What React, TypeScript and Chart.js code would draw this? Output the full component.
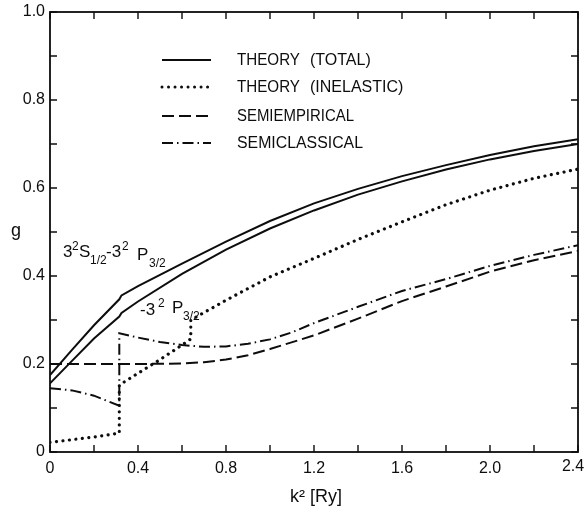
import React, { useEffect, useRef } from 'react';
import { Chart, registerables } from 'chart.js';

Chart.register(...registerables);

const INK = '#0d0d0d';
const FONT = '"Liberation Sans", Arial, sans-serif';

// Tick labels
const xTickLabels = ['0', '0.4', '0.8', '1.2', '1.6', '2.0', '2.4'];
const yTickLabels = ['0', '0.2', '0.4', '0.6', '0.8', '1.0'];

// Theory (total), upper curve
const upperK = [0, 0.1, 0.2, 0.315, 0.325, 0.4, 0.6, 0.8, 1.0, 1.2, 1.4, 1.6, 1.8, 2.0, 2.2, 2.4];
const upperG = [0.175, 0.232, 0.288, 0.347, 0.356, 0.377, 0.428, 0.478, 0.525, 0.565, 0.598, 0.627, 0.652, 0.675, 0.695, 0.711];

// Theory (total), lower curve
const lowerK = [0, 0.1, 0.2, 0.315, 0.325, 0.4, 0.6, 0.8, 1.0, 1.2, 1.4, 1.6, 1.8, 2.0, 2.2, 2.4];
const lowerG = [0.156, 0.207, 0.258, 0.308, 0.316, 0.342, 0.405, 0.46, 0.508, 0.549, 0.585, 0.615, 0.642, 0.665, 0.684, 0.7];

// Theory (inelastic)
const inelK = [0, 0.1, 0.2, 0.315, 0.315, 0.4, 0.5, 0.6, 0.64, 0.64, 0.8, 1.0, 1.2, 1.4, 1.6, 1.8, 2.0, 2.2, 2.4];
const inelG = [0.022, 0.028, 0.034, 0.043, 0.152, 0.179, 0.21, 0.243, 0.257, 0.3, 0.345, 0.398, 0.44, 0.483, 0.523, 0.562, 0.595, 0.622, 0.643];

// Semiempirical
const semiEmpK = [0, 0.2, 0.4, 0.6, 0.7, 0.8, 0.9, 1.0, 1.2, 1.4, 1.6, 1.8, 2.0, 2.2, 2.4];
const semiEmpG = [0.2, 0.2, 0.2, 0.201, 0.204, 0.21, 0.22, 0.234, 0.265, 0.303, 0.343, 0.376, 0.41, 0.436, 0.457];

// Semiclassical
const semiClK = [0, 0.1, 0.2, 0.315, 0.315, 0.4, 0.5, 0.6, 0.7, 0.8, 0.9, 1.0, 1.1, 1.2, 1.4, 1.6, 1.8, 2.0, 2.2, 2.4];
const semiClG = [0.145, 0.14, 0.128, 0.105, 0.27, 0.26, 0.25, 0.243, 0.239, 0.24, 0.246, 0.256, 0.272, 0.293, 0.33, 0.366, 0.393, 0.423, 0.448, 0.47];

const legendLabels = [
  ['THEORY', '(TOTAL)'],
  ['THEORY', '(INELASTIC)'],
  ['SEMIEMPIRICAL', ''],
  ['SEMICLASSICAL', ''],
];

const zip = (k: number[], g: number[]) => k.map((x, i) => ({ x, y: g[i] }));

const DOT = [0.01, 6.5];
const DASH = [12, 5];
const DASHDOT = [11, 4, 1.5, 4];

const legendStyles = [
  { dash: [] as number[], width: 2, cap: 'butt' },
  { dash: DOT, width: 3, cap: 'round' },
  { dash: DASH, width: 2, cap: 'butt' },
  { dash: DASHDOT, width: 2, cap: 'butt' },
];

type Seg = [string, number, number, number]; // text, x, baseline y, size

function drawSegs(ctx: CanvasRenderingContext2D, segs: Seg[]) {
  ctx.textAlign = 'left';
  ctx.textBaseline = 'alphabetic';
  for (const [t, x, y, s] of segs) {
    ctx.font = `${s}px ${FONT}`;
    ctx.fillText(t, x, y);
  }
}

const decorPlugin = {
  id: 'decor',
  afterDraw(chart: any) {
    const { ctx, chartArea: a, scales } = chart;
    const xs = scales.x;
    const ys = scales.y;
    ctx.save();
    ctx.strokeStyle = INK;
    ctx.fillStyle = INK;
    ctx.lineWidth = 1.8;
    ctx.setLineDash([]);
    ctx.strokeRect(a.left, a.top, a.right - a.left, a.bottom - a.top);
    ctx.lineWidth = 1.4;
    const tl = 7;
    ctx.beginPath();
    xs.ticks.forEach((t: any) => {
      const px = xs.getPixelForValue(t.value);
      ctx.moveTo(px, a.bottom);
      ctx.lineTo(px, a.bottom - tl);
      ctx.moveTo(px, a.top);
      ctx.lineTo(px, a.top + tl);
    });
    ys.ticks.forEach((t: any) => {
      const py = ys.getPixelForValue(t.value);
      ctx.moveTo(a.left, py);
      ctx.lineTo(a.left + tl, py);
      ctx.moveTo(a.right, py);
      ctx.lineTo(a.right - tl, py);
    });
    ctx.stroke();

    // last x tick label, pulled inside the canvas
    ctx.font = `16px ${FONT}`;
    ctx.textAlign = 'center';
    ctx.textBaseline = 'top';
    const lastVal = xs.ticks[xs.ticks.length - 1].value;
    ctx.fillText(xTickLabels[xTickLabels.length - 1], xs.getPixelForValue(lastVal) - 5, a.bottom + 7);

    // legend
    const rows = [60, 87, 116, 143];
    legendLabels.forEach((lab, i) => {
      const st = legendStyles[i];
      ctx.beginPath();
      ctx.lineWidth = st.width;
      ctx.lineCap = st.cap;
      ctx.setLineDash(st.dash);
      ctx.moveTo(162, rows[i]);
      ctx.lineTo(211, rows[i]);
      ctx.stroke();
      ctx.setLineDash([]);
      ctx.lineCap = 'butt';
      ctx.font = `16px ${FONT}`;
      ctx.textAlign = 'left';
      ctx.textBaseline = 'middle';
      const w0 = i < 2 ? 63 : i === 2 ? 117 : 126;
      ctx.fillText(lab[0], 237, rows[i] + 1, w0);
      if (lab[1]) ctx.fillText(lab[1], 310, rows[i] + 1, i === 0 ? 70 : 98);
    });

    // y axis label
    ctx.font = `18px ${FONT}`;
    ctx.textAlign = 'left';
    ctx.textBaseline = 'alphabetic';
    ctx.fillText('g', 11, 236);

    // x axis title
    ctx.textAlign = 'center';
    ctx.font = `18px ${FONT}`;
    ctx.fillText('k² [Ry]', (a.left + a.right) / 2 + 2, 502);

    // curve annotations
    drawSegs(ctx, [
      ['3', 63, 257, 17],
      ['2', 72, 250, 12],
      ['S', 79, 257, 17],
      ['1/2', 90, 264, 12],
      ['-3', 106, 257, 17],
      ['2', 122, 250, 12],
      ['P', 137, 260, 17],
      ['3/2', 149, 267, 12],
    ]);
    drawSegs(ctx, [
      ['-3', 140, 315, 17],
      ['2', 158, 307, 12],
      ['P', 172, 313, 17],
      ['3/2', 183, 320, 12],
    ]);
    ctx.restore();
  },
};

export default function App() {
  const ref = useRef<HTMLCanvasElement | null>(null);
  useEffect(() => {
    if (!ref.current) return;
    const line = (data: any, dash: number[], width: number, cap: string) => ({
      data,
      showLine: true,
      borderColor: INK,
      borderWidth: width,
      borderDash: dash,
      borderCapStyle: cap,
      pointRadius: 0,
      fill: false,
      tension: 0,
    });
    const chart = new Chart(ref.current, {
      type: 'scatter',
      data: {
        datasets: [
          line(zip(upperK, upperG), [], 2, 'butt'),
          line(zip(lowerK, lowerG), [], 2, 'butt'),
          line(zip(inelK, inelG), DOT, 3.2, 'round'),
          line(zip(semiEmpK, semiEmpG), DASH, 2, 'butt'),
          line(zip(semiClK, semiClG), DASHDOT, 2, 'butt'),
        ] as any,
      },
      options: {
        responsive: false,
        animation: false,
        devicePixelRatio: 1,
        layout: { padding: { top: 12, right: 9, left: 0, bottom: 0 } },
        plugins: { legend: { display: false }, tooltip: { enabled: false } },
        scales: {
          x: {
            type: 'linear',
            min: 0,
            max: 2.4,
            grid: { display: false, drawTicks: false },
            border: { display: false },
            ticks: {
              stepSize: 0.2,
              autoSkip: false,
              maxRotation: 0,
              padding: 7,
              color: INK,
              font: { family: FONT, size: 16 },
              callback: (_v: any, i: number) =>
                i % 2 === 0 && i / 2 < xTickLabels.length - 1 ? xTickLabels[i / 2] : '',
            },
            afterFit: (s: any) => {
              s.height = 56;
              s.paddingLeft = 0;
              s.paddingRight = 0;
            },
          },
          y: {
            type: 'linear',
            min: 0,
            max: 1,
            grid: { display: false, drawTicks: false },
            border: { display: false },
            ticks: {
              stepSize: 0.1,
              autoSkip: false,
              padding: 5,
              color: INK,
              font: { family: FONT, size: 16 },
              callback: (_v: any, i: number) => (i % 2 === 0 ? yTickLabels[i / 2] : ''),
            },
            afterFit: (s: any) => {
              s.width = 50;
              s.paddingTop = 0;
              s.paddingBottom = 0;
            },
          },
        },
      } as any,
      plugins: [decorPlugin],
    });
    return () => chart.destroy();
  }, []);
  return (
    <div style={{ position: 'fixed', left: 0, top: 0, width: 587, height: 508, background: '#fff' }}>
      <canvas ref={ref} width={587} height={508} style={{ display: 'block' }} />
    </div>
  );
}
